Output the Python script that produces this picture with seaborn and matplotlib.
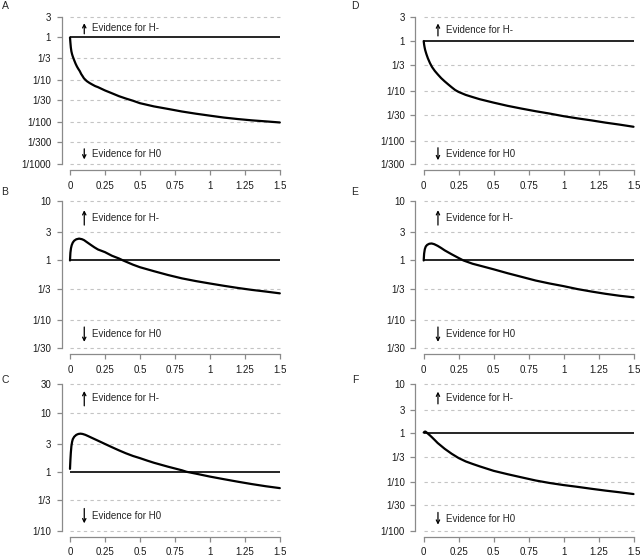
import numpy as np
import pandas as pd
import matplotlib
matplotlib.use("Agg")
import matplotlib.pyplot as plt
import seaborn as sns

sns.set_style("ticks")
plt.rcParams['font.family'] = ['Liberation Sans', 'DejaVu Sans']

# valores (x = tamano del efecto, y = factor de Bayes)
x_a = [0, 0.003, 0.006, 0.01, 0.015, 0.02, 0.03, 0.04, 0.05, 0.06, 0.07, 0.08, 0.09,
       0.1, 0.12, 0.14, 0.16, 0.18, 0.2, 0.25, 0.3, 0.35, 0.4, 0.45, 0.5, 0.6, 0.7,
       0.8, 0.9, 1.0, 1.1, 1.2, 1.3, 1.4, 1.5]
bf_a = [1.0, 0.75, 0.58, 0.47, 0.4, 0.355, 0.29, 0.24, 0.205, 0.18, 0.16, 0.137, 0.122,
        0.108, 0.093, 0.084, 0.077, 0.071, 0.067, 0.056, 0.048, 0.041, 0.036, 0.032, 0.028,
        0.0235, 0.0205, 0.0178, 0.0158, 0.0142, 0.0128, 0.0118, 0.011, 0.0104, 0.0098]

x_b = [0, 0.003, 0.007, 0.012, 0.02, 0.03, 0.045, 0.065, 0.085, 0.1, 0.125, 0.15, 0.175,
       0.2, 0.25, 0.3, 0.35, 0.38, 0.45, 0.5, 0.6, 0.7, 0.8, 0.9, 1.0, 1.1, 1.2, 1.3,
       1.4, 1.5]
bf_b = [1.0, 1.35, 1.6, 1.8, 2.0, 2.15, 2.27, 2.33, 2.28, 2.2, 2.0, 1.82, 1.66,
        1.53, 1.38, 1.2, 1.08, 1.0, 0.85, 0.77, 0.66, 0.57, 0.5, 0.45, 0.41, 0.375, 0.345,
        0.32, 0.3, 0.28]

x_c = [0, 0.003, 0.006, 0.01, 0.015, 0.02, 0.03, 0.045, 0.06, 0.075, 0.09, 0.11, 0.13,
       0.15, 0.2, 0.25, 0.3, 0.35, 0.4, 0.45, 0.5, 0.55, 0.6, 0.7, 0.8, 0.833, 0.9, 1.0,
       1.1, 1.2, 1.3, 1.4, 1.5]
bf_c = [1.12, 1.6, 2.1, 2.7, 3.2, 3.55, 3.9, 4.2, 4.35, 4.4, 4.35, 4.2, 4.0,
        3.8, 3.35, 2.95, 2.6, 2.3, 2.05, 1.85, 1.7, 1.55, 1.42, 1.22, 1.06, 1.0, 0.93, 0.83,
        0.75, 0.68, 0.62, 0.57, 0.53]

x_d = [0, 0.003, 0.006, 0.01, 0.015, 0.02, 0.03, 0.045, 0.06, 0.08, 0.1, 0.125, 0.15,
       0.175, 0.2, 0.225, 0.25, 0.3, 0.35, 0.4, 0.5, 0.6, 0.7, 0.8, 0.9, 1.0, 1.1, 1.2,
       1.3, 1.4, 1.5]
bf_d = [1.0, 0.85, 0.76, 0.67, 0.6, 0.54, 0.45, 0.36, 0.3, 0.25, 0.215, 0.18, 0.155,
        0.135, 0.118, 0.104, 0.095, 0.083, 0.075, 0.068, 0.058, 0.05, 0.044, 0.039, 0.035,
        0.031, 0.028, 0.0255, 0.023, 0.021, 0.019]

x_e = [0, 0.003, 0.008, 0.015, 0.025, 0.04, 0.057, 0.075, 0.1, 0.125, 0.15, 0.2, 0.25,
       0.284, 0.35, 0.4, 0.5, 0.6, 0.7, 0.8, 0.9, 1.0, 1.1, 1.2, 1.3, 1.4, 1.5]
bf_e = [1.0, 1.3, 1.55, 1.72, 1.83, 1.91, 1.93, 1.88, 1.76, 1.62, 1.48, 1.27, 1.1,
        1.0, 0.88, 0.82, 0.71, 0.61, 0.53, 0.46, 0.41, 0.37, 0.33, 0.3, 0.275, 0.255, 0.24]

x_f = [0, 0.006, 0.012, 0.02, 0.03, 0.045, 0.06, 0.08, 0.1, 0.125, 0.15, 0.2, 0.25,
       0.3, 0.35, 0.4, 0.5, 0.6, 0.7, 0.8, 0.9, 1.0, 1.1, 1.2, 1.3, 1.4, 1.5]
bf_f = [1.03, 1.07, 1.08, 1.04, 0.98, 0.9, 0.82, 0.72, 0.63, 0.55, 0.48, 0.38, 0.31,
        0.265, 0.235, 0.21, 0.17, 0.145, 0.125, 0.108, 0.096, 0.087, 0.08, 0.073, 0.067,
        0.062, 0.057]

# marcas del eje y de cada panel
ticks_a = [3, 1, 1/3, 1/10, 1/30, 1/100, 1/300, 1/1000]
labels_a = ["3", "1", "1/3", "1/10", "1/30", "1/100", "1/300", "1/1000"]
ticks_b = [10, 3, 1, 1/3, 1/10, 1/30]
labels_b = ["10", "3", "1", "1/3", "1/10", "1/30"]
ticks_c = [30, 10, 3, 1, 1/3, 1/10]
labels_c = ["30", "10", "3", "1", "1/3", "1/10"]
ticks_d = [3, 1, 1/3, 1/10, 1/30, 1/100, 1/300]
labels_d = ["3", "1", "1/3", "1/10", "1/30", "1/100", "1/300"]
ticks_e = ticks_b
labels_e = labels_b
ticks_f = [10, 3, 1, 1/3, 1/10, 1/30, 1/100]
labels_f = ["10", "3", "1", "1/3", "1/10", "1/30", "1/100"]

x_ticks = [0, 0.25, 0.5, 0.75, 1, 1.25, 1.5]
x_labels = ["0", "0.25", "0.5", "0.75", "1", "1.25", "1.5"]

# altura de los textos de evidencia
txt_up = {"A": 1.63, "B": 5.25, "C": 17.3, "D": 1.69, "E": 5.25, "F": 5.3}
txt_down = {"A": 0.00175, "B": 0.057, "C": 0.18, "D": 0.0054, "E": 0.057, "F": 0.018}

paneles = {
    "A": (x_a, bf_a, ticks_a, labels_a),
    "B": (x_b, bf_b, ticks_b, labels_b),
    "C": (x_c, bf_c, ticks_c, labels_c),
    "D": (x_d, bf_d, ticks_d, labels_d),
    "E": (x_e, bf_e, ticks_e, labels_e),
    "F": (x_f, bf_f, ticks_f, labels_f),
}

W, H = 640, 556
fig = plt.figure(figsize=(6.4, 5.56), dpi=100)

# posiciones en pixeles
col_px = {"A": 61.6, "B": 61.6, "C": 61.6, "D": 415.3, "E": 415.3, "F": 415.3}
row_px = {"A": (11.4, 170.3), "D": (11.4, 170.3),
          "B": (195.1, 354.2), "E": (195.1, 354.2),
          "C": (378.4, 536.9), "F": (378.4, 536.9)}
ancho = 226.6
label_pos = {"A": (5, 6), "B": (5, 192), "C": (5, 380),
             "D": (355, 6), "E": (355, 192), "F": (355, 380)}

gris = "#8a8a8a"
fs = 7.0

for nombre, (xs, bfs, ticks, labels) in paneles.items():
    left = col_px[nombre]
    top, bottom = row_px[nombre]
    ax = fig.add_axes([left / W, 1 - bottom / H, ancho / W, (bottom - top) / H])
    ax.set_yscale("log")

    lo, hi = np.log10(min(ticks)), np.log10(max(ticks))
    pad = 0.04 * (hi - lo)
    ax.set_ylim(10 ** (lo - pad), 10 ** (hi + pad))
    ax.set_xlim(-0.06, 1.56)

    # lineas de referencia
    otros = [t for t in ticks if abs(t - 1) > 1e-9]
    ax.hlines(otros, 0, 1.5, colors="#c4c4c4", linestyles=(0, (3, 3)), lw=0.8)
    ax.hlines(1, 0, 1.5, colors="black", lw=1.2)

    df = pd.DataFrame({"x": xs, "bf": bfs})
    sns.lineplot(data=df, x="x", y="bf", ax=ax, color="black", lw=1.6)

    ax.set_yticks(ticks)
    ax.set_yticklabels(labels)
    ax.yaxis.set_minor_locator(matplotlib.ticker.NullLocator())
    ax.set_xticks(x_ticks)
    ax.set_xticklabels(x_labels)
    ax.set_xlabel("")
    ax.set_ylabel("")
    ax.tick_params(axis="both", length=3.3, width=0.9, color=gris, labelsize=fs,
                   labelcolor="#1a1a1a", pad=4.2)

    for s in ["top", "right"]:
        ax.spines[s].set_visible(False)
    ax.spines["left"].set_bounds(min(ticks), max(ticks))
    ax.spines["bottom"].set_bounds(0, 1.5)
    ax.spines["left"].set_color(gris)
    ax.spines["bottom"].set_color(gris)
    ax.spines["left"].set_linewidth(0.9)
    ax.spines["bottom"].set_linewidth(0.9)
    ax.patch.set_visible(False)

    # flechas y textos
    yu = txt_up[nombre]
    yd = txt_down[nombre]
    f = 10 ** 0.125
    ax.annotate("", xy=(0.102, yu * f), xytext=(0.102, yu / f),
                arrowprops=dict(arrowstyle="->", lw=0.9, color="black",
                                shrinkA=0, shrinkB=0, mutation_scale=6))
    ax.annotate("", xy=(0.102, yd / f), xytext=(0.102, yd * f),
                arrowprops=dict(arrowstyle="->", lw=0.9, color="black",
                                shrinkA=0, shrinkB=0, mutation_scale=6))
    ax.text(0.16, yu, "Evidence for H-", fontsize=fs, va="center", ha="left")
    ax.text(0.16, yd, "Evidence for H0", fontsize=fs, va="center", ha="left")

    lx, ly = label_pos[nombre]
    fig.text(lx / W, 1 - ly / H, nombre, fontsize=7.5, va="center", ha="center")

fig.savefig("out.png", dpi=100)
